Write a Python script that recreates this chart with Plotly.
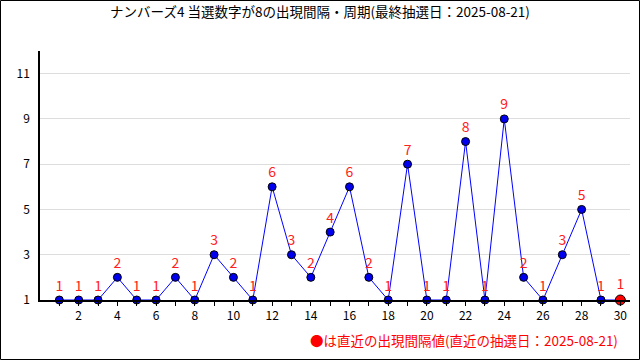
import plotly.graph_objects as go

draws = list(range(1, 31))
intervals = [1, 1, 1, 2, 1, 1, 2, 1, 3, 2, 1, 6, 3, 2, 4, 6, 2, 1, 7, 1, 1, 8, 1, 9, 2, 1, 3, 5, 1, 1]
y_ticks = [1, 3, 5, 7, 9, 11]
x_ticks = list(range(2, 31, 2))
title = "ナンバーズ4 当選数字が8の出現間隔・周期(最終抽選日：2025-08-21)"
note = "●は直近の出現間隔値(直近の抽選日：2025-08-21)"

W, H = 640, 360
L, R, T, B = 40, 10, 51, 60
FONT = "Noto Sans CJK JP, DejaVu Sans, sans-serif"

colors = ["#0000ee"] * (len(draws) - 1) + ["#ff0000"]
sizes = [8] * (len(draws) - 1) + [10]

fig = go.Figure()
fig.add_trace(go.Scatter(
    x=draws, y=intervals, mode="lines+markers+text",
    line=dict(color="#0000ff", width=1),
    marker=dict(size=sizes, color=colors, opacity=1, line=dict(color="#000000", width=1)),
    text=[str(v) for v in intervals], textposition="top center",
    textfont=dict(color="#ff2020", size=14, family=FONT),
    cliponaxis=False, hoverinfo="skip",
))

pw = W - L - R
ph = H - T - B
fig.update_layout(
    width=W, height=H,
    margin=dict(l=L, r=R, t=T, b=B),
    paper_bgcolor="white", plot_bgcolor="white",
    showlegend=False,
    font=dict(family=FONT, size=12, color="#000000"),
    title=dict(text=title, x=0.5, xanchor="center", y=1 - 12 / H, yanchor="middle",
               font=dict(size=13.5, family=FONT, color="#000000")),
    xaxis=dict(range=[0, 30.5], tickmode="array", tickvals=list(range(1, 31)),
               ticktext=[str(v) if v in x_ticks else "" for v in range(1, 31)],
               showgrid=False, zeroline=False, showline=True, linecolor="#000000", linewidth=1.5,
               ticks="outside", ticklen=4, tickcolor="#000000", tickfont=dict(size=12),
               fixedrange=True),
    yaxis=dict(range=[1, 12], tickmode="array", tickvals=y_ticks,
               showgrid=True, gridcolor="#dddddd", gridwidth=1, zeroline=False,
               showline=True, linecolor="#000000", linewidth=1.5, ticks="",
               ticklabelstandoff=6, tickfont=dict(size=12), fixedrange=True),
    annotations=[dict(text=note, xref="paper", yref="paper",
                      x=(620 - L) / pw, y=-(340 - (H - B)) / ph, xanchor="right", yanchor="middle",
                      showarrow=False, font=dict(color="#ff0000", size=13.5, family=FONT))],
    shapes=[dict(type="rect", xref="paper", yref="paper",
                 x0=-(L - 0.5) / pw, x1=1 + (R - 0.5) / pw,
                 y0=-(B - 0.5) / ph, y1=1 + (T - 0.5) / ph,
                 line=dict(color="#000000", width=1), fillcolor="rgba(0,0,0,0)", layer="below")],
)

fig.write_html("out.html", config={"displayModeBar": False},
               post_script="document.body.style.margin='0';document.body.style.padding='0';")
